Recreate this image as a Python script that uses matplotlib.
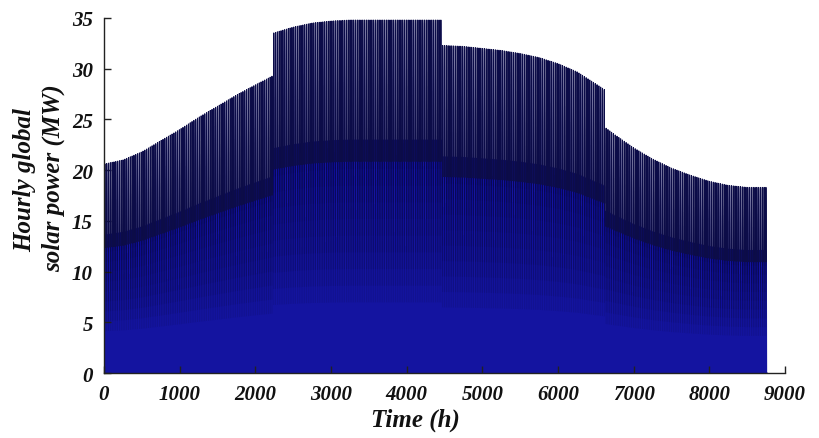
import numpy as np
import matplotlib
matplotlib.use("Agg")
import matplotlib.pyplot as plt

# Envelope of the daily peak (hour of year, MW)
knot_hours = [0, 250, 500, 750, 1000, 1250, 1500, 1750, 2000, 2231,
              2232, 2500, 2750, 3000, 3250, 3500, 4000, 4463,
              4464, 4750, 5000, 5250, 5500, 5750, 6000, 6250, 6500, 6623,
              6624, 6750, 7000, 7250, 7500, 7750, 8000, 8250, 8500, 8759]
knot_peak_mw = [20.6, 21.0, 21.8, 22.9, 24.0, 25.2, 26.3, 27.4, 28.4, 29.3,
                33.5, 34.1, 34.5, 34.7, 34.8, 34.8, 34.8, 34.8,
                32.3, 32.2, 32.0, 31.8, 31.5, 31.1, 30.5, 29.7, 28.5, 27.9,
                24.2, 23.5, 22.2, 21.1, 20.2, 19.5, 18.9, 18.5, 18.3, 18.3]

# Hourly shape of a day, as a fraction of the daily peak
hour_profile = [0, 0, 0, 0, 0, 0, 0.10, 0.35, 0.60, 0.80, 0.93, 0.99,
                1.0, 0.99, 0.93, 0.80, 0.60, 0.35, 0.10, 0, 0, 0, 0, 0]

x_ticks = [0, 1000, 2000, 3000, 4000, 5000, 6000, 7000, 8000, 9000]
y_ticks = [0, 5, 10, 15, 20, 25, 30, 35]

n_days = 365
day_noon = np.arange(n_days) * 24 + 12
daily_peak = np.interp(day_noon, knot_hours, knot_peak_mw)
power = (daily_peak[:, None] * np.array(hour_profile)[None, :]).ravel()
peak_per_hour = np.repeat(daily_peak, 24)
hours = np.arange(power.size)

fig = plt.figure(figsize=(8.19, 4.39), dpi=100)
ax = fig.add_axes([104/819, 1-374/439, (785-104)/819, (374-19)/439])

base = '#1414a0'
dark = '#03031a'
ax.fill_between(hours, power, 0, color=base, lw=0, zorder=1)
ax.plot(hours, np.minimum(power, 0.66 * peak_per_hour), color=base, lw=1.0,
        zorder=1.2)
fracs = np.linspace(0.20, 0.72, 12)
for k, f in enumerate(fracs):
    cut = f * peak_per_hour
    ax.fill_between(hours, np.minimum(power, cut), power, where=power > cut,
                    color=dark, alpha=0.15, lw=0, zorder=1.5 + k * 0.01)
ax.plot(hours, np.where(power > 0.5 * peak_per_hour, power, np.nan),
        color='#0c0c48', lw=0.75, zorder=2)

ax.set_xlim(0, 9000)
ax.set_ylim(0, 35)
ax.set_xticks(x_ticks)
ax.set_yticks(y_ticks)
for s in ['top', 'right']:
    ax.spines[s].set_visible(False)
for s in ['left', 'bottom']:
    ax.spines[s].set_color('#222222')
    ax.spines[s].set_linewidth(1.0)
    ax.spines[s].set_zorder(5)
ax.tick_params(direction='in', length=5, width=1.0, color='#222222')
ax.tick_params(axis='x', pad=8)
ax.tick_params(axis='y', pad=8)

font = dict(family='Liberation Serif', weight='bold', style='italic')
for lab in ax.get_xticklabels() + ax.get_yticklabels():
    lab.set_fontfamily('Liberation Serif')
    lab.set_fontweight('bold')
    lab.set_fontstyle('italic')
    lab.set_fontsize(15)
    lab.set_color('#111111')

fig.text(415/819, 1-420/439, 'Time (h)', ha='center', va='center',
         fontsize=18, color='#111111', **font)
fig.text(25/819, 1-180/439, 'Hourly global', rotation=90, ha='center', va='center',
         fontsize=18, color='#111111', **font)
fig.text(53/819, 1-178/439, 'solar power (MW)', rotation=90, ha='center', va='center',
         fontsize=18, color='#111111', **font)

fig.savefig('out.png', dpi=100)
